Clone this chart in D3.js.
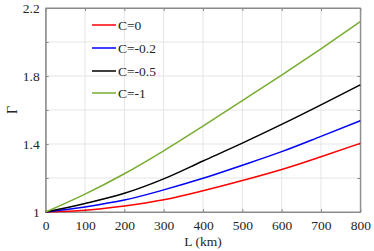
<!DOCTYPE html>
<html>
<head>
<meta charset="UTF-8">
<title>Gamma vs L</title>
<script src="https://cdn.jsdelivr.net/npm/d3@7"></script>
<style>
  body { margin: 0; background: #fff; }
</style>
</head>
<body>
<div class="container"></div>
<script>
// distances in km
var lengths = [0, 100, 200, 300, 400, 500, 600, 700, 800];

// Gamma for each C
var gammaC0    = [1, 1.010, 1.035, 1.072, 1.125, 1.185, 1.250, 1.325, 1.404];
var gammaC02   = [1, 1.030, 1.070, 1.130, 1.198, 1.275, 1.355, 1.445, 1.537];
var gammaC05   = [1, 1.050, 1.110, 1.195, 1.300, 1.405, 1.515, 1.630, 1.748];
var gammaC1    = [1, 1.105, 1.225, 1.360, 1.505, 1.655, 1.805, 1.960, 2.120];

var seriesNames  = ["C=0", "C=-0.2", "C=-0.5", "C=-1"];
var seriesColors = ["#ff0000", "#0000ff", "#000000", "#77ac30"];

var xTicks = [0, 100, 200, 300, 400, 500, 600, 700, 800];
var yGrid  = [1, 1.2, 1.4, 1.6, 1.8, 2.0, 2.2];
var yLabels = [1, 1.4, 1.8, 2.2];

var width = 374, height = 251;
var margin = {left: 45.7, right: 13.7, top: 8, bottom: 39};
var serif = "'Liberation Serif', 'DejaVu Serif', serif";

var x = d3.scaleLinear().domain([0, 800]).range([margin.left, width - margin.right]);
var y = d3.scaleLinear().domain([1, 2.2]).range([height - margin.bottom, margin.top]);

var svg = d3.select(".container").append("svg")
    .attr("width", width)
    .attr("height", height)
    .attr("font-family", serif);

// grid
svg.append("g").selectAll("line.gx")
   .data(xTicks.slice(1, -1)).enter().append("line")
   .attr("x1", function(d) { return x(d); }).attr("x2", function(d) { return x(d); })
   .attr("y1", y(1)).attr("y2", y(2.2))
   .attr("stroke", "#e5e5e5").attr("stroke-width", 1);

svg.append("g").selectAll("line.gy")
   .data(yGrid.slice(1, -1)).enter().append("line")
   .attr("y1", function(d) { return y(d); }).attr("y2", function(d) { return y(d); })
   .attr("x1", x(0)).attr("x2", x(800))
   .attr("stroke", "#e5e5e5").attr("stroke-width", 1);

// box
svg.append("rect")
   .attr("x", x(0)).attr("y", y(2.2))
   .attr("width", x(800) - x(0)).attr("height", y(1) - y(2.2))
   .attr("fill", "none").attr("stroke", "#8a8a8a").attr("stroke-width", 1);

// axes with inward ticks
var xAxis = d3.axisBottom(x).tickValues(xTicks).tickSizeInner(-3).tickSizeOuter(0).tickPadding(8);
svg.append("g").attr("transform", "translate(0," + y(1) + ")").call(xAxis);
var yAxis = d3.axisLeft(y).tickValues(yGrid).tickSizeInner(-3).tickSizeOuter(0).tickPadding(6)
    .tickFormat(function(d) { return yLabels.indexOf(d) >= 0 ? d3.format("")(d) : ""; });
svg.append("g").attr("transform", "translate(" + x(0) + ",0)").call(yAxis);

// top and right ticks
svg.append("g").attr("transform", "translate(0," + y(2.2) + ")")
   .call(d3.axisTop(x).tickValues(xTicks).tickSizeInner(-3).tickSizeOuter(0).tickFormat(""));
svg.append("g").attr("transform", "translate(" + x(800) + ",0)")
   .call(d3.axisRight(y).tickValues(yGrid).tickSizeInner(-3).tickSizeOuter(0).tickFormat(""));

svg.selectAll("g").attr("font-family", serif);
svg.selectAll(".domain").attr("stroke", "#8a8a8a");
svg.selectAll(".tick line").attr("stroke", "#8a8a8a");
svg.selectAll(".tick text")
   .attr("font-family", serif)
   .attr("font-size", 13.5)
   .attr("fill", "#262626");

// curves
var allSeries = [gammaC0, gammaC02, gammaC05, gammaC1];
var line = d3.line()
    .x(function(d, i) { return x(lengths[i]); })
    .y(function(d) { return y(d); })
    .curve(d3.curveMonotoneX);

svg.append("g").selectAll("path.curve")
   .data(allSeries).enter().append("path")
   .attr("d", line)
   .attr("fill", "none")
   .attr("stroke", function(d, i) { return seriesColors[i]; })
   .attr("stroke-width", 1.5);

// legend
var legendY = [25, 48, 71, 93];
var lg = svg.append("g").selectAll("g.leg")
   .data(seriesNames).enter().append("g");
lg.append("line")
  .attr("x1", 92).attr("x2", 116)
  .attr("y1", function(d, i) { return legendY[i]; })
  .attr("y2", function(d, i) { return legendY[i]; })
  .attr("stroke", function(d, i) { return seriesColors[i]; })
  .attr("stroke-width", 1.5);
lg.append("text")
  .attr("x", 118)
  .attr("y", function(d, i) { return legendY[i] + 4.5; })
  .attr("font-family", serif)
  .attr("font-size", 13.5)
  .attr("fill", "#262626")
  .text(function(d) { return d; });

// axis labels
svg.append("text")
   .attr("x", x(400)).attr("y", 246)
   .attr("text-anchor", "middle")
   .attr("font-family", serif)
   .attr("font-size", 13.5)
   .attr("fill", "#262626")
   .text("L (km)");

svg.append("text")
   .attr("transform", "translate(17," + y(1.6) + ") rotate(-90)")
   .attr("text-anchor", "middle")
   .attr("font-family", serif)
   .attr("font-size", 14)
   .attr("fill", "#262626")
   .text("Γ");
</script>
</body>
</html>
